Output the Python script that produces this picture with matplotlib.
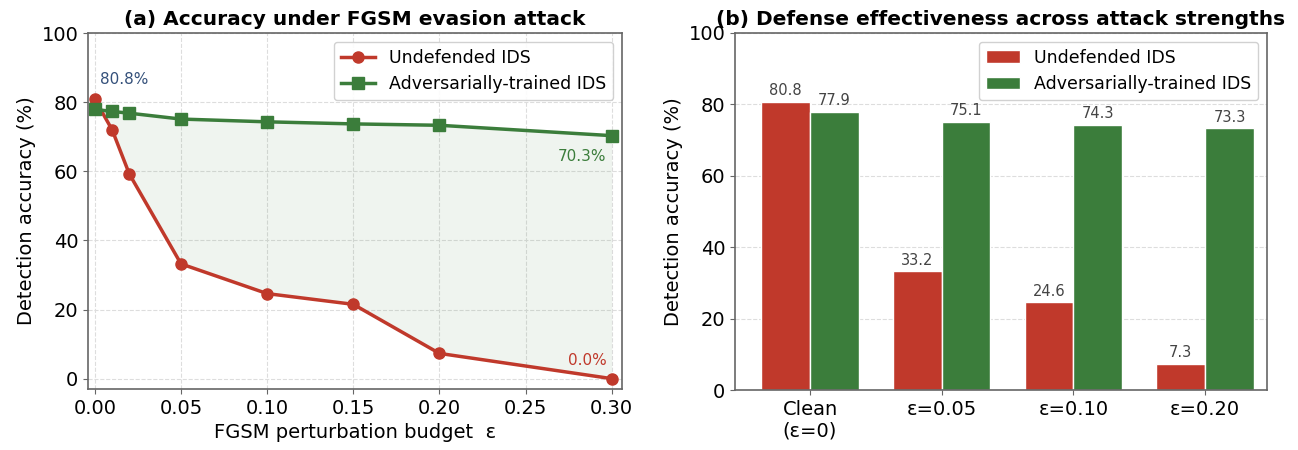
import numpy as np
import matplotlib
matplotlib.use("Agg")
import matplotlib.pyplot as plt

# data
eps = [0.0, 0.01, 0.02, 0.05, 0.10, 0.15, 0.20, 0.30]
acc_undef = [80.8, 72.0, 59.2, 33.2, 24.6, 21.5, 7.3, 0.0]
acc_adv = [77.9, 77.3, 76.8, 75.1, 74.3, 73.7, 73.3, 70.3]

bar_cats = ["Clean\n(ε=0)", "ε=0.05", "ε=0.10", "ε=0.20"]
bar_undef = [80.8, 33.2, 24.6, 7.3]
bar_adv = [77.9, 75.1, 74.3, 73.3]

RED = "#c0392b"
GREEN = "#3b7d3b"

plt.rcParams['font.family'] = ['DejaVu Sans']

fig = plt.figure(figsize=(12.98, 4.5), dpi=100)
ax1 = fig.add_axes([88/1298, 1-389/450, 534/1298, 356/450])
ax2 = fig.add_axes([735/1298, 1-390/450, 532/1298, 357/450])

for ax in (ax1, ax2):
    for s in ax.spines.values():
        s.set_color("#666666")
        s.set_linewidth(1.2)
    ax.tick_params(labelsize=14, color="#666666")
    ax.set_axisbelow(True)

# (a) line chart
ax1.fill_between(eps, acc_undef, acc_adv, color=GREEN, alpha=0.08, linewidth=0)
ax1.plot(eps, acc_undef, "-o", color=RED, lw=2.5, ms=8, label="Undefended IDS")
ax1.plot(eps, acc_adv, "-s", color=GREEN, lw=2.5, ms=8, label="Adversarially-trained IDS")
ax1.set_xlim(-0.004, 0.306)
ax1.set_ylim(-3, 100)
ax1.set_xticks([0.0, 0.05, 0.10, 0.15, 0.20, 0.25, 0.30])
ax1.set_xticklabels([f"{v:.2f}" for v in [0.0, 0.05, 0.10, 0.15, 0.20, 0.25, 0.30]])
ax1.set_yticks([0, 20, 40, 60, 80, 100])
ax1.grid(True, ls="--", color="#dddddd", lw=0.8)
ax1.set_xlabel("FGSM perturbation budget  ε", fontsize=14)
ax1.set_ylabel("Detection accuracy (%)", fontsize=14)
ax1.set_title("(a) Accuracy under FGSM evasion attack", fontsize=14.5, fontweight="bold")
ax1.text(eps[0] + 0.003, acc_undef[0] + 3.5, f"{acc_undef[0]:.1f}%", color="#34507a",
         fontsize=11, ha="left", va="bottom")
ax1.text(eps[-1] - 0.003, acc_adv[-1] - 4, f"{acc_adv[-1]:.1f}%", color=GREEN,
         fontsize=11, ha="right", va="top")
ax1.text(eps[-1] - 0.003, acc_undef[-1] + 3, f"{acc_undef[-1]:.1f}%", color=RED,
         fontsize=11, ha="right", va="bottom")
ax1.legend(loc="upper right", fontsize=12.5, framealpha=0.9, edgecolor="#cccccc")

# (b) bar chart
x = np.arange(len(bar_cats))
w = 0.37
b1 = ax2.bar(x - w/2, bar_undef, w, color=RED, edgecolor="white", lw=1, label="Undefended IDS")
b2 = ax2.bar(x + w/2, bar_adv, w, color=GREEN, edgecolor="white", lw=1, label="Adversarially-trained IDS")
for bars in (b1, b2):
    for b in bars:
        ax2.text(b.get_x() + b.get_width()/2, b.get_height() + 1, f"{b.get_height():.1f}",
                 ha="center", va="bottom", fontsize=10.5, color="#444444")
ax2.set_xlim(-0.57, 3.47)
ax2.set_ylim(0, 100)
ax2.set_xticks(x)
ax2.set_xticklabels(bar_cats)
ax2.set_yticks([0, 20, 40, 60, 80, 100])
ax2.yaxis.grid(True, ls="--", color="#dddddd", lw=0.8)
ax2.set_ylabel("Detection accuracy (%)", fontsize=14)
ax2.set_title("(b) Defense effectiveness across attack strengths", fontsize=14.5, fontweight="bold")
ax2.legend(loc="upper right", fontsize=12.5, framealpha=0.9, edgecolor="#cccccc")

fig.savefig("out.png", dpi=100)
